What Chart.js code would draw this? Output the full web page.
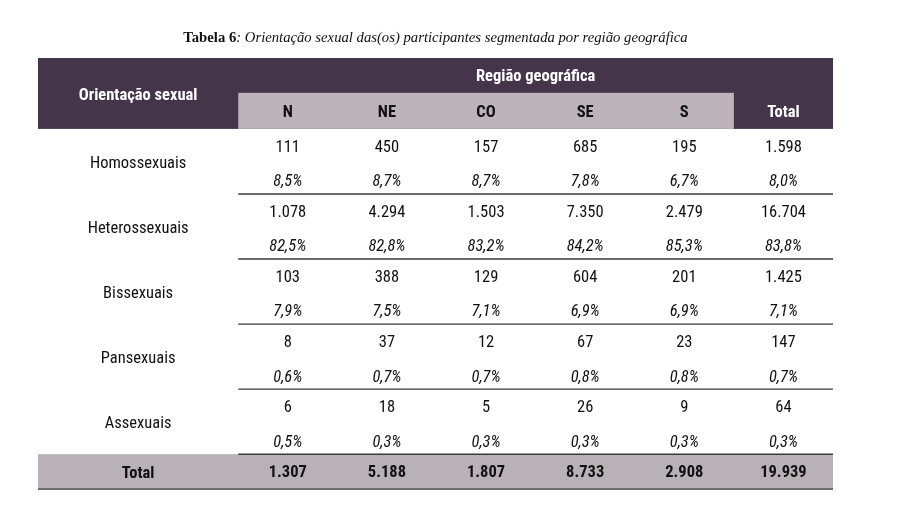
<!DOCTYPE html>
<html>
<head>
<meta charset="utf-8">
<script src="https://cdn.jsdelivr.net/npm/chart.js@4/dist/chart.umd.min.js"></script>
<style>
  html, body { margin: 0; padding: 0; background: #fff; }
  #wrap { width: 903px; height: 518px; }
</style>
</head>
<body>
<div id="wrap"><canvas id="tabela"></canvas></div>
<script>
// dados da tabela
const regions = ["N", "NE", "CO", "SE", "S"];
const totalLabel = "Total";
const orientations = ["Homossexuais", "Heterossexuais", "Bissexuais", "Pansexuais", "Assexuais"];
const counts = [
    [111, 450, 157, 685, 195, 1598],
    [1078, 4294, 1503, 7350, 2479, 16704],
    [103, 388, 129, 604, 201, 1425],
    [8, 37, 12, 67, 23, 147],
    [6, 18, 5, 26, 9, 64],
];
const percents = [
    [8.5, 8.7, 8.7, 7.8, 6.7, 8.0],
    [82.5, 82.8, 83.2, 84.2, 85.3, 83.8],
    [7.9, 7.5, 7.1, 6.9, 6.9, 7.1],
    [0.6, 0.7, 0.7, 0.8, 0.8, 0.7],
    [0.5, 0.3, 0.3, 0.3, 0.3, 0.3],
];
const columnTotals = [1307, 5188, 1807, 8733, 2908, 19939];
const titleBold = "Tabela 6";
const titleRest = ": Orientação sexual das(os) participantes segmentada por região geográfica";

const dark = "#44354b";
const lightGray = "#bcb3bb";
const totalGray = "#b9b1b8";
const condensed = 1;
const cond = "'Roboto Condensed', Roboto, sans-serif";

function fmtInt(n) {
    return String(n).replace(/\B(?=(\d{3})+(?!\d))/g, ".");
}
function fmtPct(p) {
    return p.toFixed(1).replace(".", ",") + "%";
}

// column index: 0..4 regions, 5 total; label column sits left of -0.5
const labelColLeft = -2.52;
// row units: each orientation uses 2 units (count + percent)
const headerTop = -2.18, headerSplit = -1.11;
const totalRow = orientations.length * 2;
const tableBottom = totalRow + 1.07;

const cellPoints = [];
const pctPoints = [];
const totalPoints = [];
orientations.forEach((o, k) => {
    counts[k].forEach((v, i) => cellPoints.push({ x: i, y: 2 * k + 0.57, t: fmtInt(v) }));
    percents[k].forEach((v, i) => pctPoints.push({ x: i, y: 2 * k + 1.64, t: fmtPct(v) }));
});
columnTotals.forEach((v, i) => totalPoints.push({ x: i, y: totalRow + 0.57, t: fmtInt(v) }));
const labelPoints = orientations.map((o, k) => ({ x: (labelColLeft - 0.5) / 2, y: 2 * k + 1.07, t: o }));

function drawText(ctx, text, x, y, font, color, sx) {
    ctx.save();
    ctx.font = font;
    ctx.fillStyle = color;
    ctx.textAlign = "center";
    ctx.textBaseline = "middle";
    ctx.translate(x, y);
    ctx.scale(sx, 1);
    ctx.fillText(text, 0, 0);
    ctx.restore();
}

const tablePlugin = {
    id: "tablePlugin",
    beforeDatasetsDraw(chart) {
        const { ctx, scales: { x, y } } = chart;
        const fill = (x0, x1, y0, y1, c) => {
            ctx.fillStyle = c;
            const px0 = x.getPixelForValue(x0), px1 = x.getPixelForValue(x1);
            const py0 = y.getPixelForValue(y0), py1 = y.getPixelForValue(y1);
            ctx.fillRect(px0, py0, px1 - px0, py1 - py0);
        };
        const hline = (x0, x1, yv, c, w) => {
            ctx.save();
            ctx.strokeStyle = c;
            ctx.lineWidth = w;
            ctx.beginPath();
            const py = y.getPixelForValue(yv);
            ctx.moveTo(x.getPixelForValue(x0), py);
            ctx.lineTo(x.getPixelForValue(x1), py);
            ctx.stroke();
            ctx.restore();
        };
        const last = regions.length + 0.5;
        ctx.save();
        // header
        fill(labelColLeft, last, headerTop, 0, dark);
        fill(-0.5, regions.length - 0.5, headerSplit, 0, lightGray);
        // total row
        fill(labelColLeft, last, totalRow, tableBottom, totalGray);
        ctx.restore();
        // separators between orientations
        for (let k = 1; k <= orientations.length; k++) {
            hline(-0.5, last, 2 * k, "#3a3a3a", 1.4);
        }
        hline(labelColLeft, last, tableBottom, "#6e6e6e", 2);

        // header texts
        const hf = "bold 16.5px " + cond;
        drawText(ctx, "Orientação sexual", x.getPixelForValue((labelColLeft - 0.5) / 2),
            y.getPixelForValue(headerTop / 2 + 0.06), hf, "#fff", condensed);
        drawText(ctx, "Região geográfica", x.getPixelForValue((regions.length - 0.5 - 0.5) / 2 + 0.5),
            y.getPixelForValue((headerTop + headerSplit) / 2 + 0.03), hf, "#fff", condensed);
        regions.forEach((r, i) => {
            drawText(ctx, r, x.getPixelForValue(i), y.getPixelForValue(headerSplit / 2 + 0.06),
                hf, "#111", condensed);
        });
        drawText(ctx, totalLabel, x.getPixelForValue(regions.length), y.getPixelForValue(headerSplit / 2 + 0.06),
            hf, "#fff", condensed);
        drawText(ctx, totalLabel, x.getPixelForValue((labelColLeft - 0.5) / 2), y.getPixelForValue(totalRow + 0.6),
            hf, "#111", condensed);

        // title
        const cx = (chart.chartArea.left + chart.chartArea.right) / 2;
        const ty = 38;
        ctx.save();
        ctx.textBaseline = "middle";
        const fB = "bold 14.7px 'Liberation Serif', serif";
        const fI = "italic 14.7px 'Liberation Serif', serif";
        ctx.font = fB;
        const wB = ctx.measureText(titleBold).width;
        ctx.font = fI;
        const wI = ctx.measureText(titleRest).width;
        let tx = cx - (wB + wI) / 2;
        ctx.fillStyle = "#111";
        ctx.font = fB;
        ctx.fillText(titleBold, tx, ty);
        ctx.font = fI;
        ctx.fillText(titleRest, tx + wB, ty);
        ctx.restore();
    },
    afterDatasetsDraw(chart) {
        const { ctx } = chart;
        chart.data.datasets.forEach((ds, di) => {
            const meta = chart.getDatasetMeta(di);
            meta.data.forEach((el, j) => {
                drawText(ctx, ds.data[j].t, el.x, el.y, ds.textFont.replace("FAM", cond), ds.textColor, condensed);
            });
        });
    },
};

new Chart(document.getElementById("tabela"), {
    type: "scatter",
    data: {
        datasets: [
            { label: "contagens", data: cellPoints, textFont: "16.5px FAM", textColor: "#111" },
            { label: "percentuais", data: pctPoints, textFont: "italic 16.5px FAM", textColor: "#111" },
            { label: "orientação", data: labelPoints, textFont: "16.5px FAM", textColor: "#111" },
            { label: "totais", data: totalPoints, textFont: "bold 16.5px FAM", textColor: "#111" },
        ],
    },
    options: {
        responsive: true,
        maintainAspectRatio: false,
        animation: false,
        layout: { padding: { left: 38, right: 70, top: 58, bottom: 29 } },
        elements: { point: { radius: 0, hoverRadius: 0 } },
        plugins: { legend: { display: false }, tooltip: { enabled: false }, title: { display: false } },
        events: [],
        scales: {
            x: { type: "linear", min: labelColLeft, max: regions.length + 0.5, display: false },
            y: { type: "linear", min: headerTop, max: tableBottom, reverse: true, display: false },
        },
    },
    plugins: [tablePlugin],
});
</script>
</body>
</html>
